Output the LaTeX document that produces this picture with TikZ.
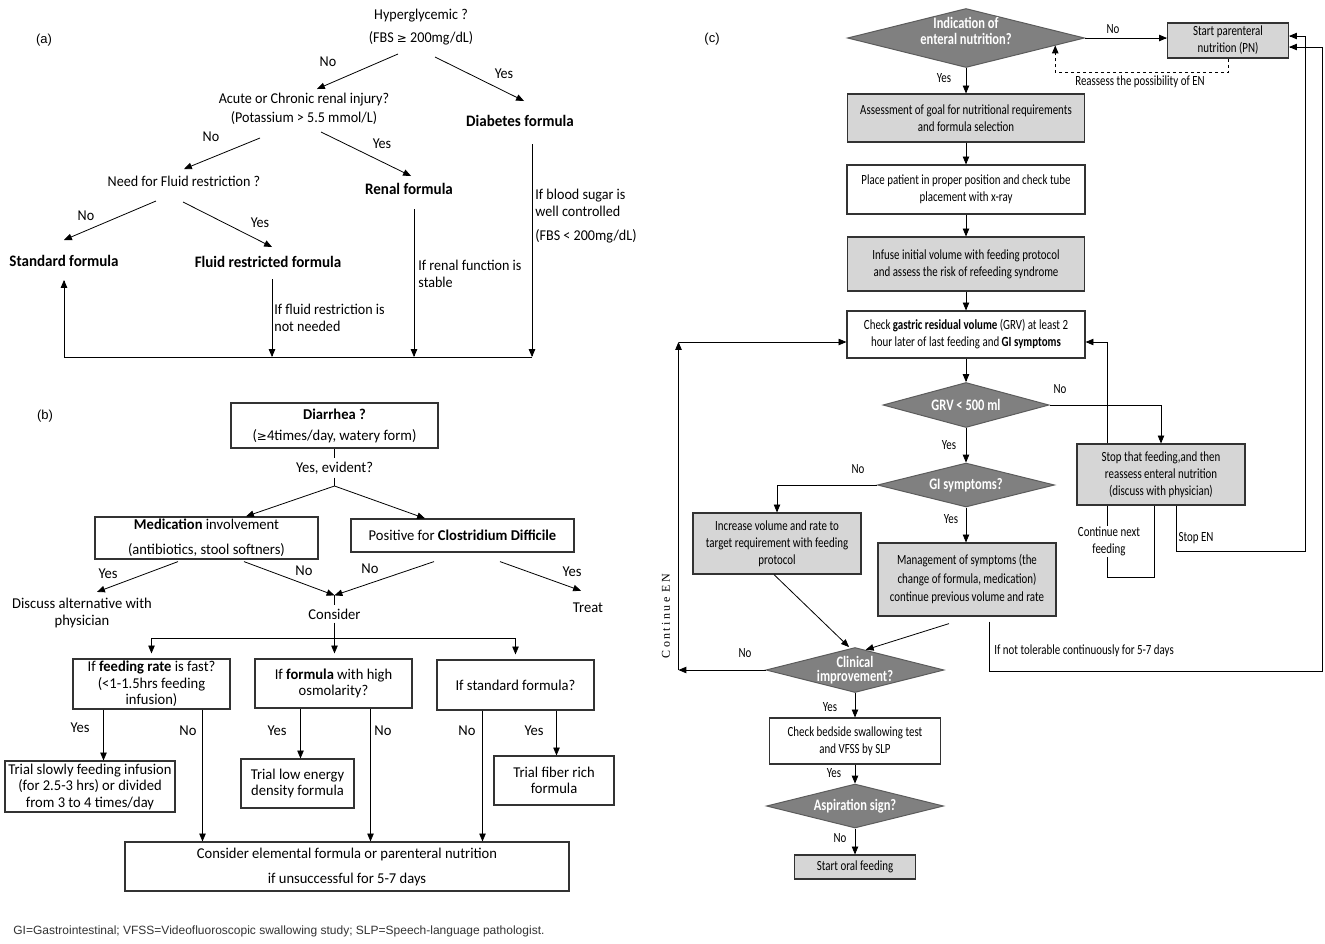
\documentclass[tikz,border=0pt]{standalone}
\usepackage{fontspec}
\setmainfont{Carlito}
\newfontfamily\fa{Carlito}[FakeStretch=0.94]
\newfontfamily\fb{Carlito}[FakeStretch=0.97]
\newfontfamily\fc{Carlito}[FakeStretch=0.78]
\newfontfamily\fsym{DejaVu Sans}[Scale=0.8]
\newfontfamily\fhel{Liberation Sans}
\newfontfamily\ftim{Liberation Serif}[LetterSpace=20]
\usetikzlibrary{arrows,shapes.geometric,calc}
\definecolor{boxgray}{gray}{0.84}
\definecolor{diagray}{gray}{0.5}
\definecolor{ink}{gray}{0.2}
\newcommand{\geqs}{{\fsym ≥}}

\begin{document}
\begin{tikzpicture}[x=1pt,y=-1pt,>=triangle 45,line width=0.8pt,
  ta/.style={font=\fa\fontsize{15}{16.5}\selectfont,align=center,inner sep=0pt},
  tb/.style={font=\fb\fontsize{15}{16.5}\selectfont,align=center,inner sep=0pt},
  tc/.style={font=\fc\fontsize{14}{17}\selectfont,align=center,inner sep=0pt},
  bolda/.style={ta,font=\fa\bfseries\fontsize{16}{17}\selectfont},
  bb/.style 2 args={tb,draw=ink,line width=1.2pt,inner sep=2pt,minimum width=#1,minimum height=#2},
  cw/.style 2 args={tc,draw=ink,line width=1.2pt,inner sep=2pt,fill=white,minimum width=#1,minimum height=#2},
  cg/.style 2 args={cw={#1}{#2},fill=boxgray},
  dec/.style 2 args={diamond,draw=ink!80,fill=diagray,line width=1pt,inner sep=0pt,minimum width=#1,minimum height=#2},
  dtxt/.style={tc,text=white,font=\fc\bfseries\fontsize{16}{16.5}\selectfont},
  panellbl/.style={font=\fhel\fontsize{13}{13}\selectfont,inner sep=0pt}]
\useasboundingbox (0,0) rectangle (1325,943);
\fill[white] (0,0) rectangle (1325,943);

% (a)
\node[panellbl] (pa) at (44,40) {(a)};
\node[ta] (hyp) at (421,27) {Hyperglycemic ?\\[7pt](FBS \geqs{} 200mg/dL)};
\node[ta] (ren) at (304,108.5) {Acute or Chronic renal injury?\\[2.5pt](Potassium > 5.5 mmol/L)};
\node[bolda] (dia) at (520,121) {Diabetes formula};
\node[ta] (nfr) at (184,181) {Need for Fluid restriction ?};
\node[bolda] (renf) at (409,189) {Renal formula};
\node[bolda] (stdf) at (64,261) {Standard formula};
\node[bolda] (flf) at (268,262) {Fluid restricted formula};
\draw[->] ([xshift=-23,yshift=-27]hyp.center) -- ([xshift=13,yshift=19.5]ren.center);
\draw[->] ([xshift=14,yshift=-30]hyp.center) -- ([xshift=4,yshift=20]dia.center);
\draw[->] ([xshift=-44,yshift=-29.5]ren.center) -- ([yshift=12]nfr.center);
\draw[->] ([xshift=17,yshift=-23.5]ren.center) -- ([xshift=2,yshift=13]renf.center);
\draw[->] ([xshift=-28,yshift=-20]nfr.center) -- ([yshift=21]stdf.center);
\draw[->] ([xshift=-1,yshift=-21]nfr.center) -- ([xshift=4,yshift=15]flf.center);
\coordinate (abase) at (64,357);
\draw[->] ([xshift=4,yshift=-17]flf.center) -- ++(0,78);
\draw[->] ([xshift=5,yshift=-20]renf.center) -- ++(0,148);
\draw[->] ([xshift=12,yshift=-23]dia.center) -- ++(0,213);
\draw (abase) -- ++(468,0);
\draw[->] (abase) -- ([yshift=-19]stdf.center);
\node[ta] (an1) at (328,62) {No};
\node[ta] (ay1) at (504,74) {Yes};
\node[ta] (an2) at (211,137) {No};
\node[ta] (ay2) at (382,144) {Yes};
\node[ta] (an3) at (86,216) {No};
\node[ta] (ay3) at (260,223) {Yes};
\node[ta,anchor=west,align=left] (nfl) at (274,318) {If fluid restriction is\\not needed};
\node[ta,anchor=west,align=left] (nren) at (418,274) {If renal function is\\stable};
\node[ta,anchor=west,align=left] (nbs) at (535,216) {If blood sugar is\\well controlled\\[7.5pt](FBS < 200mg/dL)};

% (b)
\node[panellbl] (pb) at (45,416) {(b)};
\node[bb={207}{45}] (diar) at (334.5,425.5) {\textbf{Diarrhea ?}\\[4.5pt](\geqs4times/day, watery form)};
\node[tb,inner sep=3pt] (evd) at (334.5,468) {Yes, evident?};
\coordinate (spl) at (334.5,486);
\node[bb={223}{42}] (med) at (206.5,538) {\textbf{Medication} involvement\\[8.5pt](antibiotics, stool softners)};
\node[bb={223}{33}] (cdf) at (462.5,535.5) {Positive for \textbf{Clostridium Difficile}};
\node[tb] (dis) at (82,613) {Discuss alternative with\\physician};
\node[tb,inner sep=3pt] (cns) at (334.5,614) {Consider};
\node[tb] (trt) at (588,608) {Treat};
\node[bb={157}{50}] (frt) at (151.5,684) {If \textbf{feeding rate} is fast?\\(<1-1.5hrs feeding\\infusion)};
\node[bb={157}{49}] (osm) at (333.5,683.5) {If \textbf{formula} with high\\osmolarity?};
\node[bb={157}{50}] (sfm) at (515.5,685) {If standard formula?};
\node[bb={170}{51}] (slw) at (90,786.5) {Trial slowly feeding infusion\\(for 2.5-3 hrs) or divided\\from 3 to 4 times/day};
\node[bb={113}{49}] (low) at (297.5,783.5) {Trial low energy\\density formula};
\node[bb={120}{49}] (fib) at (554,780.5) {Trial fiber rich\\formula};
\node[bb={444}{49}] (elm) at (347,866.5) {Consider elemental formula or parenteral nutrition\\[8.5pt]if unsuccessful for 5-7 days};
\draw (diar) -- (evd);
\draw (evd) -- (spl);
\draw[->] (spl) -- ([xshift=39.5]med.north);
\draw[->] (spl) -- ([xshift=-37.5]cdf.north);
\coordinate (mt) at ([yshift=10]cns.north);
\draw[->] ([xshift=-28.5,yshift=-2]med.south) -- ([xshift=15,yshift=6]dis.north);
\draw[->] ([xshift=37.5,yshift=-2]med.south) -- (mt);
\draw[->] ([xshift=-28.5,yshift=-9]cdf.south) -- (mt);
\draw[->] ([xshift=37.5,yshift=-9]cdf.south) -- ([xshift=-7,yshift=12]trt.north);
\draw (mt) -- (cns);
\coordinate (bar) at (334.5,638);
\draw[->,shorten >=5pt] (cns.south) -- (cns.south |- osm.north);
\draw (frt.north |- bar) -- (sfm.north |- bar);
\draw[->,shorten >=5pt] (frt.north |- bar) -- (frt.north);
\draw[->,shorten >=5pt] (sfm.north |- bar) -- (sfm.north);
\draw[->] ([xshift=-48]frt.south) -- ([xshift=13.5]slw.north);
\draw[->] ([xshift=51]frt.south) -- ([xshift=-144.5]elm.north);
\draw[->] ([xshift=-33]osm.south) -- ([xshift=3]low.north);
\draw[->] ([xshift=37]osm.south) -- ([xshift=23.5]elm.north);
\draw[->] ([xshift=-33]sfm.south) -- ([xshift=135.5]elm.north);
\draw[->] ([xshift=41]sfm.south) -- ([xshift=2.5]fib.north);
\node[tb] (by1) at (108,574) {Yes};
\node[tb] (bn1) at (304,571) {No};
\node[tb] (bn2) at (370,569) {No};
\node[tb] (by2) at (572,572) {Yes};
\node[tb] (by3) at (80,728) {Yes};
\node[tb] (bn3) at (188,731) {No};
\node[tb] (by4) at (277,731) {Yes};
\node[tb] (bn4) at (383,731) {No};
\node[tb] (bn5) at (467,731) {No};
\node[tb] (by5) at (534,731) {Yes};

% (c)
\node[panellbl] (pc) at (712,39) {(c)};
\node[dec={237}{59},label={[dtxt,name=indt,yshift=7pt]center:Indication of\\enteral nutrition?}] (ind) at (966,38) {};
\node[cg={121}{35}] (pn) at (1228,40.5) {Start parenteral\\nutrition (PN)};
\node[cg={237}{48}] (asm) at (966,118) {Assessment of goal for nutritional requirements\\and formula selection};
\node[cw={238}{49}] (plc) at (966,189.5) {Place patient in proper position and check tube\\placement with x-ray};
\node[cg={237}{54}] (inf) at (966,264) {Infuse initial volume with feeding protocol\\and assess the risk of refeeding syndrome};
\node[cw={238}{47}] (chk) at (966,334.5) {Check \textbf{gastric residual volume} (GRV) at least 2\\hour later of last feeding and \textbf{GI symptoms}};
\node[dec={166}{45},label={[dtxt,name=grvt]center:GRV < 500 ml}] (grv) at (966,405) {};
\node[dec={177}{44},label={[dtxt,name=gist]center:GI symptoms?}] (gis) at (966,485) {};
\node[cg={168}{61}] (stp) at (1161,474.5) {Stop that feeding,and then\\reassess enteral nutrition\\(discuss with physician)};
\node[cg={168}{61}] (inc) at (777,543.5) {Increase volume and rate to\\target requirement with feeding\\protocol};
\node[cg={178}{73}] (mng) at (967,579.5) {Management of symptoms (the\\[1.5pt]change of formula, medication)\\[1.5pt]continue previous volume and rate};
\node[dec={178}{45},label={[dtxt,name=clit]center:Clinical\\[-3pt]improvement?}] (cli) at (855,670) {};
\node[cw={171}{46}] (swl) at (855,741) {Check bedside swallowing test\\and VFSS by SLP};
\node[dec={177}{44},label={[dtxt,name=aspt]center:Aspiration sign?}] (asp) at (855,806) {};
\node[cg={121}{24}] (orl) at (855,867) {Start oral feeding};
\draw[->] (ind.east) -- (ind.east -| pn.west);
\draw[->,dashed] (pn.south) -- ++(0,14) -| ($(ind.east)!0.25!(ind.south)$);
\draw[->] (ind.south) -- (asm.north);
\draw[->] (asm) -- (plc);
\draw[->] (plc) -- (inf);
\draw[->] (inf) -- (chk);
\draw[->] (chk) -- (grv);
\draw[->] (grv) -- (gis);
\draw[->] (gis.south) -- (gis.south |- mng.north);
\draw[->] (grv.east) -| (stp.north);
\coordinate (chkr) at ([yshift=-7.5]chk.east);
\draw[->] ([xshift=-54]stp.north) |- (chkr);
\draw ([xshift=-54]stp.south) -- ++(0,72) -| ([xshift=-7]stp.south);
\draw[->] ([xshift=15]stp.south) -- ++(0,46) -| ([xshift=16,yshift=4.5]pn.east) -- ([yshift=4.5]pn.east);
\draw[->] ([xshift=22,yshift=-5]mng.south) -- ++(0,50) -| ([xshift=33,yshift=-6.5]pn.east) -- ([yshift=-6.5]pn.east);
\draw[->] (gis.west) -| (inc.north);
\draw[->] ([xshift=-3]inc.south) -- ([xshift=-6]cli.north);
\draw[->] ([xshift=-18,yshift=-7]mng.south) -- ($(cli.north)!0.12!(cli.east)$);
\draw[->] (cli.west) -- ++(-87,0) coordinate (cenl);
\coordinate (chkl) at ([yshift=-7.5]chk.west);
\draw[->] (cenl) -- (cenl |- chkl);
\draw[->] (cenl |- chkl) -- (chkl);
\draw[->] (cli) -- (swl);
\draw[->] (swl) -- (asp);
\draw[->] (asp) -- (orl);
\node[tc] (cn1) at (1113,29) {No};
\node[tc] (cy1) at (944,78) {Yes};
\node[tc] (rea) at (1140,82) {Reassess the possibility of EN};
\node[tc] (cn2) at (1060,389) {No};
\node[tc] (cy2) at (949,445) {Yes};
\node[tc] (cn3) at (858,469) {No};
\node[tc] (cy3) at (951,519) {Yes};
\node[tc,fill=white,inner sep=1pt] (cnf) at (1109,541.5) {Continue next\\feeding};
\node[tc] (sen) at (1196,538) {Stop EN};
\node[tc,anchor=west] (ntl) at (994,651) {If not tolerable continuously for 5-7 days};
\node[tc] (cn4) at (745,653) {No};
\node[rotate=90,inner sep=0pt,font=\ftim\fontsize{12}{12}\selectfont] (cen) at (666,616) {Continue EN};
\node[tc] (cy4) at (830,707) {Yes};
\node[tc] (cy5) at (834,773) {Yes};
\node[tc] (cn5) at (840,838) {No};

\node[anchor=west,inner sep=0pt,font=\fhel\fontsize{12}{14}\selectfont,text=black!80] (fn) at (13,931) {GI=Gastrointestinal; VFSS=Videofluoroscopic swallowing study; SLP=Speech-language pathologist.};
\end{tikzpicture}
\end{document}
